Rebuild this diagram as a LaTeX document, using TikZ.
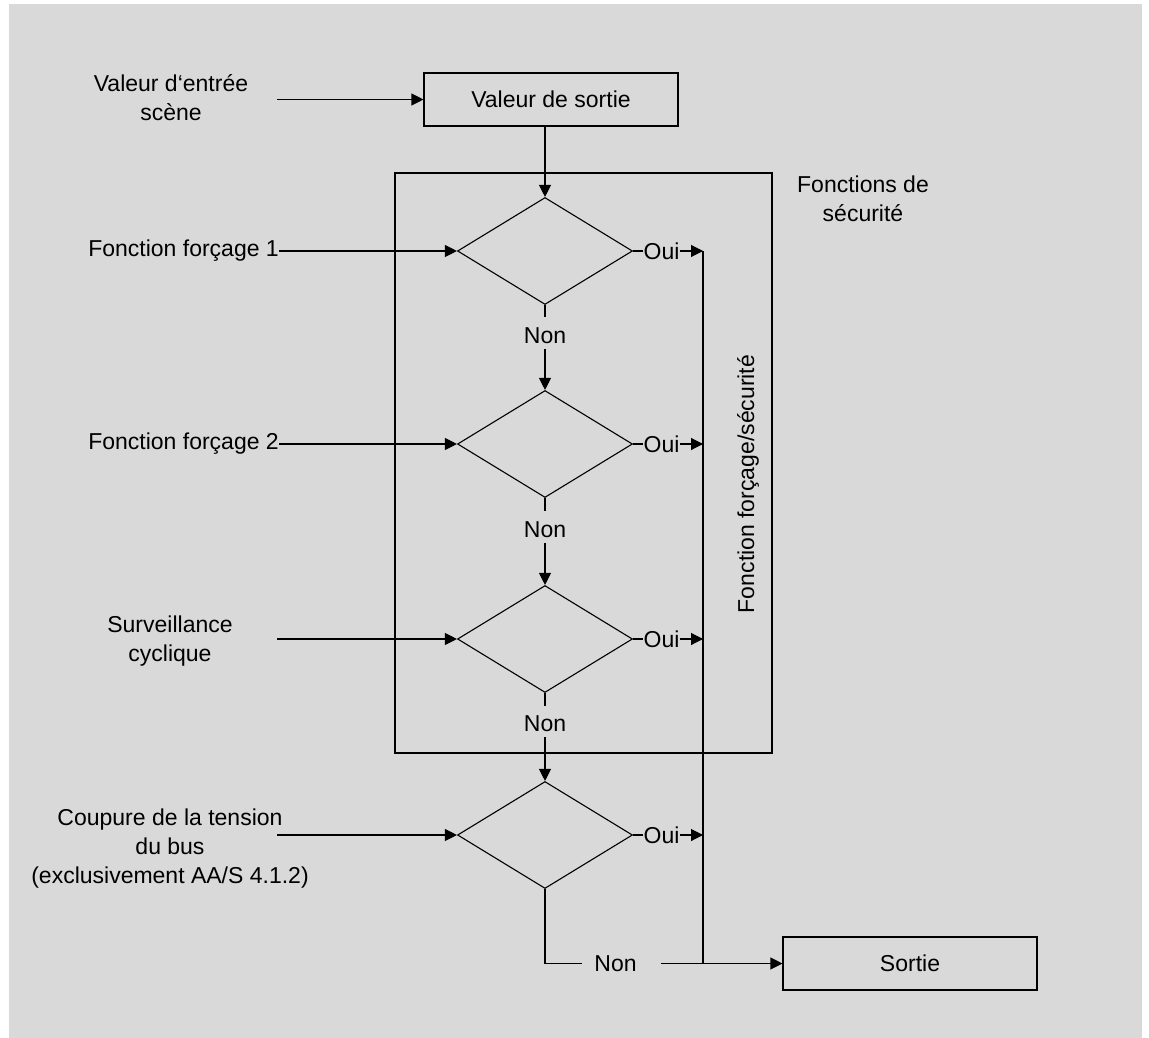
\documentclass[tikz,border=0pt]{standalone}
\usepackage{fontspec}
\setmainfont{Liberation Sans}
\usetikzlibrary{shapes.geometric,arrows.meta}
\definecolor{bggray}{RGB}{217,217,217}
\begin{document}
\begin{tikzpicture}[x=1pt,y=-1pt,
  ln/.style={line width=1.1pt, draw=black},
  boxnode/.style={ln, rectangle, inner sep=0pt, minimum width=254pt, minimum height=53pt, font=\fontsize{23}{29}\selectfont},
  dec/.style={ln, diamond, inner sep=0pt, minimum width=175pt, minimum height=107pt},
  lbl/.style={font=\fontsize{23}{29}\selectfont, inner sep=0pt, align=center},
  arr/.style={ln, -{Triangle[length=12pt,width=12pt]}},
  plain/.style={ln}
]
\useasboundingbox (0,0) rectangle (1149,1038);
\fill[white] (0,0) rectangle (1149,1038);
\fill[bggray] (9,4) rectangle (1142,1038);

% security frame
\draw[ln] (395,173) rectangle (772,753);

% top box
\node[boxnode] (vs) at (551,99.5) {Valeur de sortie};
\node[lbl] (vin) at (171,98) {Valeur d‘entrée\\scène};
\coordinate (vinE) at (277,99.5);
\draw[arr] (vinE) -- (vs.west);

% decisions
\node[dec] (d1) at (545,251) {};
\node[dec] (d2) at (545,444) {};
\node[dec] (d3) at (545,639) {};
\node[dec] (d4) at (545,835) {};

\draw[arr] (vs.south -| d1.north) -- (d1.north);

% inputs
\node[lbl, anchor=east] (f1) at (279,251) {Fonction forçage 1};
\draw[arr] (f1.east) -- (d1.west);
\node[lbl, anchor=east] (f2) at (279,444) {Fonction forçage 2};
\draw[arr] (f2.east) -- (d2.west);
\node[lbl] (sc) at (170,641) {Surveillance\\cyclique};
\coordinate (scE) at (277,639);
\draw[arr] (scE) -- (d3.west);
\node[lbl] (cb) at (170,849) {Coupure de la tension\\du bus\\(exclusivement AA/S 4.1.2)};
\coordinate (cbE) at (277,835);
\draw[arr] (cbE) -- (d4.west);

% Non links
\node[lbl] (n1) at (545,335.5) {Non};
\node[lbl] (n2) at (545,529.5) {Non};
\node[lbl] (n3) at (545,724) {Non};
\draw[plain] (d1.south) -- ([yshift=10pt]n1.north);
\draw[arr] ([yshift=-5pt]n1.south) -- (d2.north);
\draw[plain] (d2.south) -- ([yshift=10pt]n2.north);
\draw[arr] ([yshift=-5pt]n2.south) -- (d3.north);
\draw[plain] (d3.south) -- ([yshift=10pt]n3.north);
\draw[arr] ([yshift=-5pt]n3.south) -- (d4.north);

% Oui links
\node[lbl] (o1) at (661.5,251) {Oui};
\node[lbl] (o2) at (661.5,444) {Oui};
\node[lbl] (o3) at (661.5,639) {Oui};
\node[lbl] (o4) at (661.5,835) {Oui};
\coordinate (o1E) at (703,251);
\coordinate (o2E) at (703,444);
\coordinate (o3E) at (703,639);
\coordinate (o4E) at (703,835);
\draw[plain] (d1.east) -- (o1.west);
\draw[arr] (o1.east) -- (o1E);
\draw[plain] (d2.east) -- (o2.west);
\draw[arr] (o2.east) -- (o2E);
\draw[plain] (d3.east) -- (o3.west);
\draw[arr] (o3.east) -- (o3E);
\draw[plain] (d4.east) -- (o4.west);
\draw[arr] (o4.east) -- (o4E);

% output
\node[boxnode] (so) at (910,963.5) {Sortie};
\node[lbl] (n4) at (615.5,963.5) {Non};
\draw[plain] (d4.south) |- ([xshift=-12pt]n4.west);
\draw[arr] ([xshift=24pt]n4.east) -- (so.west);
\draw[plain] (o1E) -- (o1E |- so.west);

% labels
\node[lbl, rotate=90] (fv) at (748,484) {Fonction forçage/sécurité};
\node[lbl] (fs) at (863,199) {Fonctions de\\sécurité};
\end{tikzpicture}
\end{document}
